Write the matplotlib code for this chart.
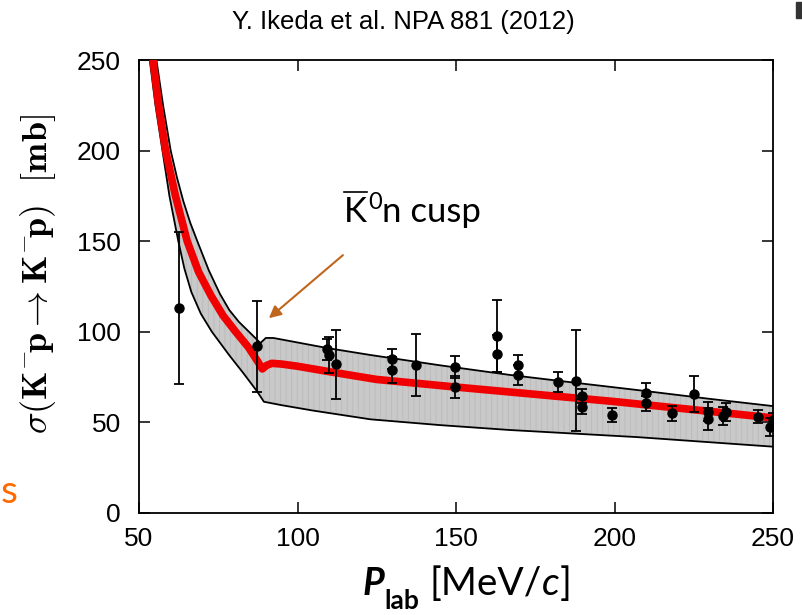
import numpy as np
import matplotlib
matplotlib.use("Agg")
import matplotlib.pyplot as plt
from matplotlib.patches import Rectangle

plt.rcParams['font.family'] = ['Liberation Sans', 'DejaVu Sans']
plt.rcParams['mathtext.fontset'] = 'cm'
plt.rcParams['hatch.linewidth'] = 0.6

# model curve (red) and error band edges
red_x = [54.4, 56.2, 58.4, 61.5, 65.2, 68.8, 72.7, 76.5, 80.5, 84.5, 87.5, 88.9,
         90.3, 91.9, 95, 100, 110, 125, 150, 175, 200, 225, 250]
red_y = [250, 225, 200, 175, 150, 133, 120, 109, 100, 91.5, 83.5, 79.5,
         81.5, 82.6, 82.2, 81.0, 78.0, 73.7, 69.5, 65.5, 61.5, 57.0, 52.5]

upper_x = [55.5, 57.6, 60.0, 62.0, 64.0, 66.2, 68.4, 72.0, 75.5, 78.5, 81.5, 84.7,
           88.3, 90.0, 92.4, 109.5, 123, 145, 167, 187, 207, 230, 250]
upper_y = [250, 225, 200, 185, 172, 160, 150, 134, 121, 112, 105.5, 100,
           93.8, 96.6, 96.6, 91.0, 87.2, 81.5, 76.2, 72.0, 67.9, 63.0, 59.0]

lower_x = [53.4, 55.2, 57.4, 59.6, 62.4, 64.3, 66.5, 69.5, 73.0, 78.5, 83.0, 87.3,
           89.4, 95, 105, 123, 145, 167, 207, 250]
lower_y = [250, 225, 200, 175, 150, 135, 122, 110, 100, 87.0, 77.0, 67.0,
           61.4, 59.5, 56.5, 51.7, 48.5, 45.8, 41.9, 36.6]

# measured cross sections
p_lab = [62.6, 87.1, 109.4, 110.0, 112.1, 129.7, 129.7, 137.3, 149.7, 149.7,
         162.8, 162.8, 169.7, 169.7, 182.1, 187.9, 189.7, 189.7, 199.1, 209.8,
         209.8, 218.2, 225.2, 229.4, 229.4, 234.3, 235.1, 245.2, 250.0, 249.0]
sigma = [113, 92, 90.3, 87.2, 82, 84.8, 79, 81.7, 80.4, 69.7,
         97.7, 88, 81.7, 76.2, 72.5, 73, 64.6, 58.7, 54.1, 66,
         60.5, 55, 65.5, 56, 52, 53.5, 55.9, 53.2, 51.3, 47.6]
sigma_err = [42, 25, 6, 10, 19, 5.5, 7, 17, 6, 6,
             20, 10, 5.5, 5.5, 5.5, 28, 4, 4, 4, 5.5,
             4, 4, 10, 5, 6, 5, 5, 3.5, 4, 5]

W, H = 802, 615
fig = plt.figure(figsize=(W / 100, H / 100), dpi=100)
ax = fig.add_axes([139/W, 1-513/H, 634/W, 453/H])

# error band
band_x = upper_x + lower_x[::-1]
band_y = upper_y + lower_y[::-1]
ax.fill(band_x, band_y, facecolor='#c9c9c9', edgecolor='#bababa',
        hatch='|||', linewidth=0, zorder=1)
ax.plot(upper_x, upper_y, color='black', lw=1.3, zorder=2)
ax.plot(lower_x, lower_y, color='black', lw=1.3, zorder=2)
ax.plot(red_x, red_y, color='#f00000', lw=5.5, solid_capstyle='round',
        solid_joinstyle='round', zorder=3)

ax.errorbar(p_lab, sigma, yerr=sigma_err, fmt='o', color='black', ms=6.5,
            elinewidth=1.3, capsize=3.5, capthick=1.3, zorder=4)

ax.set_xlim(50, 250)
ax.set_ylim(0, 250)
ax.set_xticks([50, 100, 150, 200, 250])
ax.set_yticks([0, 50, 100, 150, 200, 250])
ax.tick_params(direction='in', length=8, width=1.1, top=True, right=True,
               labelsize=19)
ax.tick_params(axis='y', pad=13)
ax.tick_params(axis='x', pad=10)
for s in ax.spines.values():
    s.set_linewidth(1.3)

ax.set_ylabel(r'$\sigma(\mathbf{K^{{-}}\!p\rightarrow K^{{-}}\!p})\ \ [\mathbf{mb}]$',
              fontsize=26)
ax.yaxis.set_label_coords(-0.128, 0.528)

# cusp annotation
ax.annotate('', xy=(90.3, 106.5), xytext=(115, 143.3),
            arrowprops=dict(arrowstyle='-|>', color='#c0661c', lw=1.5,
                            mutation_scale=18))
ax.text(114.5, 160.6, 'K', fontsize=25, family='Lato', va='baseline')
ax.text(122.3, 168.0, '0', fontsize=17, family='Lato', va='baseline')
ax.text(126.5, 160.6, 'n cusp', fontsize=25, family='Lato', va='baseline')
ax.plot([114.8, 121.8], [177.3, 177.3], color='black', lw=1.2, clip_on=False)

# title
fig.text(403/W, 1-22/H, 'Y. Ikeda et al. NPA 881 (2012)', ha='center',
         va='center', fontsize=18.5)

# x label, pieces placed one after another
r = fig.canvas.get_renderer()


def piece(x_px, base_px, s, **kw):
    t = fig.text(x_px / W, 1 - base_px / H, s, family='Lato', va='baseline', **kw)
    return t, t.get_window_extent(r).x1


_, xe = piece(363, 595, 'P', fontsize=27, fontweight='bold', fontstyle='italic')
_, xe = piece(xe, 609, 'lab', fontsize=19, fontweight='bold')
_, xe = piece(xe + 10, 595, '[MeV/', fontsize=28)
_, xe = piece(xe, 595, 'c', fontsize=28, fontstyle='italic')
_, xe = piece(xe, 595, ']', fontsize=28)

# fragments from the neighbouring slide
fig.text(18/W, 1-503/H, 's', fontsize=28, family='Lato', color='#ff6a00',
         ha='right', va='baseline')
fig.add_artist(Rectangle((796/W, 1-18/H), 6/W, 16/H,
                         transform=fig.transFigure, color='#333333'))

fig.savefig('out.png', dpi=100)
